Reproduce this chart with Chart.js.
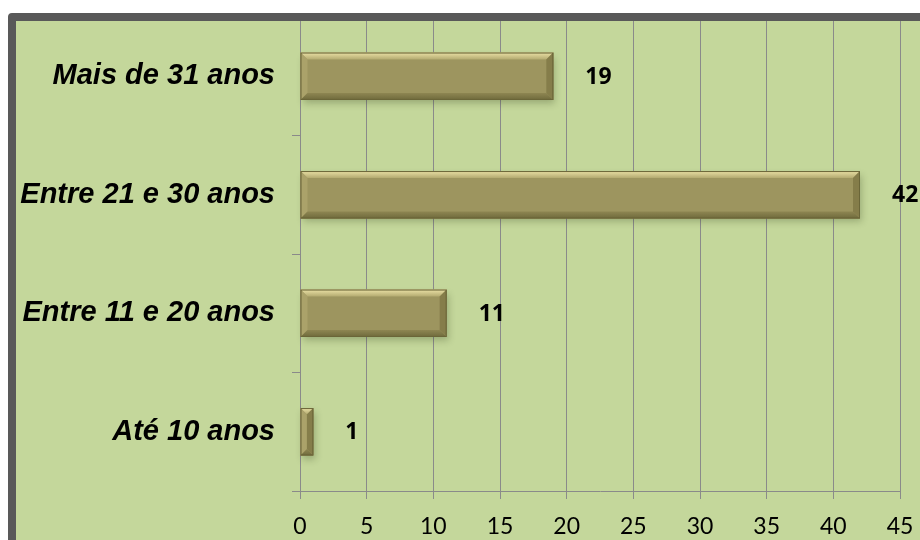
<!DOCTYPE html>
<html>
<head>
<meta charset="utf-8">
<script src="https://cdn.jsdelivr.net/npm/chart.js@4.4.1/dist/chart.umd.min.js"></script>
<style>
html,body{margin:0;padding:0;background:#ffffff;}
#wrap{position:absolute;left:0;top:0;width:920px;height:540px;}
</style>
</head>
<body>
<div id="wrap"><canvas id="c" width="920" height="540"></canvas></div>
<script>
const categories = ["Mais de 31 anos", "Entre 21 e 30 anos", "Entre 11 e 20 anos", "Até 10 anos"];
const values = [19, 42, 11, 1];
const xTicks = [0, 5, 10, 15, 20, 25, 30, 35, 40, 45];

const GREEN = '#c4d79b';
const FRAME = '#595959';
const GRID = '#8a8a8a';

const framePlugin = {
  id: 'frame',
  beforeDraw(chart) {
    const ctx = chart.ctx;
    ctx.save();
    ctx.fillStyle = '#ffffff';
    ctx.fillRect(0, 0, chart.width, chart.height);
    ctx.fillStyle = GREEN;
    ctx.fillRect(16, 21, chart.width - 16, chart.height - 21);
    ctx.restore();
  },
  afterDraw(chart) {
    const ctx = chart.ctx;
    ctx.save();
    ctx.fillStyle = FRAME;
    ctx.beginPath();
    const x0 = 8, y0 = 13, r = 4;
    ctx.moveTo(x0, chart.height);
    ctx.lineTo(x0, y0 + r);
    ctx.quadraticCurveTo(x0, y0, x0 + r, y0);
    ctx.lineTo(chart.width, y0);
    ctx.lineTo(chart.width, 21);
    ctx.lineTo(16, 21);
    ctx.lineTo(16, chart.height);
    ctx.closePath();
    ctx.fill();
    ctx.restore();
  }
};

const bevelPlugin = {
  id: 'bevel',
  beforeDatasetsDraw(chart) {
    const ctx = chart.ctx;
    const meta = chart.getDatasetMeta(0);
    ctx.save();
    meta.data.forEach(el => {
      const L = Math.min(el.x, el.base), R = Math.max(el.x, el.base);
      const T = el.y - el.height / 2, B = el.y + el.height / 2;
      ctx.shadowColor = 'rgba(40,50,20,0.45)';
      ctx.shadowBlur = 7;
      ctx.shadowOffsetX = 2;
      ctx.shadowOffsetY = 4;
      ctx.fillStyle = 'rgba(90,90,50,0.6)';
      ctx.fillRect(L, T, R - L, B - T);
    });
    ctx.restore();
  },
  afterDatasetsDraw(chart) {
    const ctx = chart.ctx;
    const meta = chart.getDatasetMeta(0);
    ctx.save();
    meta.data.forEach((el, i) => {
      const L = Math.min(el.x, el.base), R = Math.max(el.x, el.base);
      const T = el.y - el.height / 2, B = el.y + el.height / 2;
      const b = Math.min(7, (R - L) / 2, (B - T) / 2);
      const poly = (pts, fill) => {
        ctx.beginPath();
        ctx.moveTo(pts[0][0], pts[0][1]);
        for (let k = 1; k < pts.length; k++) ctx.lineTo(pts[k][0], pts[k][1]);
        ctx.closePath();
        ctx.fillStyle = fill;
        ctx.fill();
      };
      const gTop = ctx.createLinearGradient(0, T, 0, T + b);
      gTop.addColorStop(0, '#ebe1a6');
      gTop.addColorStop(1, '#b3aa70');
      poly([[L, T], [R, T], [R - b, T + b], [L + b, T + b]], gTop);
      poly([[L, T], [L + b, T + b], [L + b, B - b], [L, B]], '#aba26a');
      const gBot = ctx.createLinearGradient(0, B - b, 0, B);
      gBot.addColorStop(0, '#8e8652');
      gBot.addColorStop(1, '#6f6a3c');
      poly([[L, B], [L + b, B - b], [R - b, B - b], [R, B]], gBot);
      poly([[R, T], [R, B], [R - b, B - b], [R - b, T + b]], '#857d4a');
      ctx.strokeStyle = '#6a6538';
      ctx.lineWidth = 1;
      ctx.strokeRect(L + 0.5, T + 0.5, R - L - 1, B - T - 1);

      // value label
      ctx.fillStyle = '#000000';
      ctx.font = 'bold 23px "Open Sans", "Noto Sans", sans-serif';
      ctx.textAlign = 'left';
      ctx.textBaseline = 'middle';
      ctx.fillText(String(values[i]), R + 32, el.y + 1);
    });
    ctx.restore();
  }
};

new Chart(document.getElementById('c'), {
  type: 'bar',
  data: {
    labels: categories,
    datasets: [{
      data: values,
      backgroundColor: '#9d955f',
      borderWidth: 0,
      barPercentage: 0.4,
      categoryPercentage: 1.0
    }]
  },
  plugins: [framePlugin, bevelPlugin],
  options: {
    indexAxis: 'y',
    responsive: false,
    animation: false,
    layout: { padding: { left: 0, top: 17, right: 20, bottom: 0 } },
    plugins: { legend: { display: false }, tooltip: { enabled: false } },
    scales: {
      x: {
        min: 0, max: 45,
        afterBuildTicks(scale) { scale.ticks = xTicks.map(v => ({ value: v })); },
        afterFit(scale) { scale.height = 49; scale.paddingLeft = 0; scale.paddingRight = 0; },
        ticks: {
          color: '#000000',
          font: { family: 'Lato, "Open Sans", sans-serif', size: 23 },
          padding: 14,
          maxRotation: 0
        },
        grid: { color: GRID, lineWidth: 1, tickLength: 8, drawOnChartArea: true },
        border: { color: GRID, width: 1 }
      },
      y: {
        afterFit(scale) { scale.width = 300; scale.paddingTop = 0; scale.paddingBottom = 0; },
        ticks: {
          color: '#000000',
          font: { family: '"Liberation Sans", Arial, sans-serif', size: 29, style: 'italic', weight: 'bold' },
          padding: 17
        },
        grid: { color: GRID, lineWidth: 1, tickLength: 8, drawOnChartArea: false, offset: true },
        border: { color: GRID, width: 1 }
      }
    }
  }
});
</script>
</body>
</html>
